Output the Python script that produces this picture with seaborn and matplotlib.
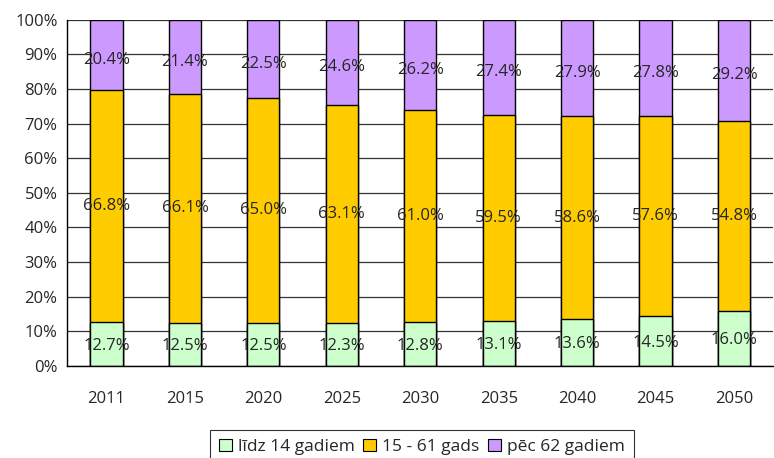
import numpy as np
import pandas as pd
import seaborn as sns
import matplotlib.pyplot as plt
from matplotlib.patches import Patch

years = ['2011', '2015', '2020', '2025', '2030', '2035', '2040', '2045', '2050']
young = [12.7, 12.5, 12.5, 12.3, 12.8, 13.1, 13.6, 14.5, 16.0]
working = [66.8, 66.1, 65.0, 63.1, 61.0, 59.5, 58.6, 57.6, 54.8]
old = [20.4, 21.4, 22.5, 24.6, 26.2, 27.4, 27.9, 27.8, 29.2]
series_names = ['līdz 14 gadiem', '15 - 61 gads', 'pēc 62 gadiem']
colors = ['#CCFFCC', '#FFCC00', '#CC99FF']

df = pd.DataFrame({'year': years, 'young': young, 'working': working, 'old': old})
total = df['young'] + df['working'] + df['old']
df['y_share'] = df['young'] / total * 100
df['w_share'] = df['working'] / total * 100
df['o_share'] = df['old'] / total * 100
df['c1'] = df['y_share']
df['c2'] = df['y_share'] + df['w_share']
df['c3'] = df['c2'] + df['o_share']

sns.set_theme(style='white')
plt.rcParams['font.family'] = ['Open Sans', 'DejaVu Sans']

fig, ax = plt.subplots(figsize=(7.74, 4.58), dpi=100)
fig.subplots_adjust(left=0.087, right=0.999, top=0.957, bottom=0.201)

ax.set_axisbelow(True)
ax.yaxis.grid(True, color='#333333', linewidth=0.9)

# draw from the top layer down so the overlays form the stack
for col, c in zip(['c3', 'c2', 'c1'], colors[::-1]):
    sns.barplot(data=df, x='year', y=col, color=c, width=0.41,
                edgecolor='black', linewidth=1.0, saturation=1, ax=ax)

fs = 12
for i in range(len(years)):
    ax.text(i, df['c1'][i] / 2 - 0.5, f"{young[i]:.1f}%", ha='center', va='center', fontsize=fs)
    ax.text(i, df['c1'][i] + df['w_share'][i] / 2, f"{working[i]:.1f}%", ha='center', va='center', fontsize=fs)
    ax.text(i, df['c2'][i] + df['o_share'][i] / 2 - 1.5, f"{old[i]:.1f}%", ha='center', va='center', fontsize=fs)

ax.set_ylim(0, 100)
ax.set_xlim(-0.5, len(years) - 0.5)
ax.set_yticks(np.arange(0, 101, 10))
ax.set_yticklabels([f"{v}%" for v in range(0, 101, 10)], fontsize=fs)
ax.set_xticks(np.arange(-0.5, len(years), 1), minor=True)
ax.tick_params(axis='x', which='major', length=0, pad=18, labelsize=fs)
ax.tick_params(axis='x', which='minor', length=5, width=1, color='black', direction='out')
ax.tick_params(axis='y', which='major', length=4, width=1, color='black', direction='out', pad=3)
ax.set_xlabel('')
ax.set_ylabel('')

for s in ['top', 'right']:
    ax.spines[s].set_visible(False)
for s in ['left', 'bottom']:
    ax.spines[s].set_color('black')
    ax.spines[s].set_linewidth(1.0)

handles = [Patch(facecolor=c, edgecolor='black', linewidth=0.8) for c in colors]
leg = fig.legend(handles, series_names, loc='upper center', bbox_to_anchor=(0.545, 0.08),
                 ncol=3, frameon=True, fontsize=12.5, handlelength=0.75, handleheight=0.75,
                 handletextpad=0.35, columnspacing=0.5, borderpad=0.5, fancybox=False)
leg.get_frame().set_edgecolor('black')
leg.get_frame().set_linewidth(0.8)

fig.savefig('out.png', dpi=100)
